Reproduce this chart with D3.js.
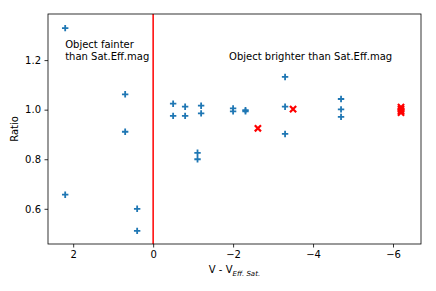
<!DOCTYPE html>
<html>
<head>
<meta charset="utf-8">
<script src="https://cdn.jsdelivr.net/npm/d3@7"></script>
<style>
  body { margin: 0; background: #fff; }
  svg text { font-family: "DejaVu Sans", sans-serif; font-size: 10px; fill: #000; }
</style>
</head>
<body>
<svg id="chart" width="436" height="291"></svg>
<script>
// blue "+" points
const blueX = [2.2, 2.2, 0.7, 0.7, 0.4, 0.4, -0.5, -0.5, -0.8, -0.8, -1.2, -1.2, -1.11, -1.11, -2.0, -2.0, -2.31, -2.31, -3.3, -3.3, -3.3, -4.7, -4.7, -4.7];
const blueY = [1.329, 0.657, 1.062, 0.911, 0.600, 0.511, 1.024, 0.975, 1.012, 0.975, 1.016, 0.985, 0.826, 0.800, 1.005, 0.993, 0.998, 0.993, 1.132, 1.012, 0.902, 1.043, 1.001, 0.971];

// red "x" points
const redX = [-2.62, -3.5, -6.2, -6.2, -6.2, -6.2];
const redY = [0.925, 1.002, 1.010, 1.002, 0.995, 0.988];

const xTicks = [2, 0, -2, -4, -6];
const yTicks = [0.6, 0.8, 1.0, 1.2];

const notes = [
    { x: 2.2, y: 1.2, lines: ['Object fainter', 'than Sat.Eff.mag'] },
    { x: -1.9, y: 1.2, lines: ['Object brighter than Sat.Eff.mag'] }
];

const svg = d3.select('#chart');
const mLeft = 48, mRight = 421, mTop = 14, mBottom = 244;

const x = d3.scaleLinear().domain([2.63, -6.70]).range([mLeft, mRight]);
const y = d3.scaleLinear().domain([0.458, 1.386]).range([mBottom, mTop]);

const fmtX = d => d3.format('d')(d).replace('-', '\u2212');

// axes
const xAxis = svg.append('g')
    .attr('transform', `translate(0,${mBottom})`)
    .call(d3.axisBottom(x).tickValues(xTicks).tickFormat(fmtX).tickSize(3.5).tickPadding(3.5));
const yAxis = svg.append('g')
    .attr('transform', `translate(${mLeft},0)`)
    .call(d3.axisLeft(y).tickValues(yTicks).tickFormat(d3.format('.1f')).tickSize(3.5).tickPadding(3.5));

[xAxis, yAxis].forEach(g => {
    g.select('.domain').remove();
    g.selectAll('.tick line').attr('stroke', '#000').attr('stroke-width', 0.8);
    g.selectAll('.tick text').attr('font-family', '"DejaVu Sans", sans-serif').attr('font-size', 10).attr('fill', '#000');
});

// vertical line at 0
svg.append('line')
    .attr('x1', x(0)).attr('x2', x(0))
    .attr('y1', mTop).attr('y2', mBottom)
    .attr('stroke', 'red').attr('stroke-width', 1.5);

// blue plus markers
const blue = blueX.map((d, i) => ({ x: d, y: blueY[i] }));
const s = 3.2;
svg.append('g').selectAll('path')
    .data(blue)
    .enter()
    .append('path')
    .attr('d', d => {
        const px = x(d.x), py = y(d.y);
        return `M${px - s},${py}H${px + s}M${px},${py - s}V${py + s}`;
    })
    .attr('stroke', '#1f77b4')
    .attr('stroke-width', 1.8)
    .attr('fill', 'none');

// red x markers
const red = redX.map((d, i) => ({ x: d, y: redY[i] }));
const r = 3.1;
svg.append('g').selectAll('path')
    .data(red)
    .enter()
    .append('path')
    .attr('d', d => {
        const px = x(d.x), py = y(d.y);
        return `M${px - r},${py - r}L${px + r},${py + r}M${px - r},${py + r}L${px + r},${py - r}`;
    })
    .attr('stroke', 'red')
    .attr('stroke-width', 2.2)
    .attr('fill', 'none');

// frame
svg.append('rect')
    .attr('x', mLeft).attr('y', mTop)
    .attr('width', mRight - mLeft).attr('height', mBottom - mTop)
    .attr('fill', 'none').attr('stroke', '#000').attr('stroke-width', 0.8);

// annotations
notes.forEach(n => {
    const t = svg.append('text')
        .attr('x', x(n.x))
        .attr('y', y(n.y) - (n.lines.length - 1) * 12);
    n.lines.forEach((line, i) => {
        t.append('tspan')
            .attr('x', x(n.x))
            .attr('dy', i == 0 ? 0 : 12)
            .text(line);
    });
});

// axis labels
svg.append('text')
    .attr('transform', `translate(18,${(mTop + mBottom) / 2}) rotate(-90)`)
    .attr('text-anchor', 'middle')
    .text('Ratio');

const xl = svg.append('text')
    .attr('x', (mLeft + mRight) / 2)
    .attr('y', 273)
    .attr('text-anchor', 'middle');
xl.append('tspan').text('V - V');
xl.append('tspan')
    .attr('dy', 2.5)
    .attr('font-size', 7)
    .attr('font-style', 'italic')
    .text('Eff. Sat.');
</script>
</body>
</html>
